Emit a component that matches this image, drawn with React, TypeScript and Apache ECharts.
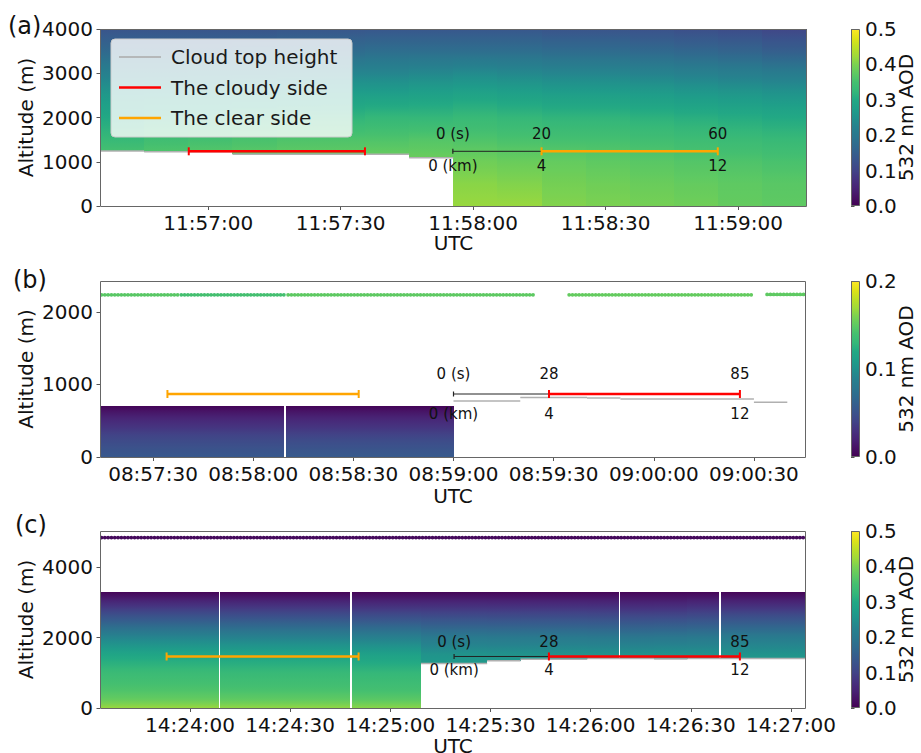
import React, { useEffect, useRef } from 'react';
import * as echarts from 'echarts';

// ================= DATA =================
// ---- Panel (a) ----
const aTimeRange = [42995.5, 43155.6];
const aAltMax = 4000;
const aAodMax = 0.5;
const aTimeTicks = [43020, 43050, 43080, 43110, 43140];
const aAltTicks = [0, 1000, 2000, 3000, 4000];
const aCbTicks = [0, 0.1, 0.2, 0.3, 0.4, 0.5];
const aLevels = [0, 500, 1000, 1500, 2000, 2500, 3000, 3500, 4000];
const aColStart = [42995.5, 43005.5, 43015.5, 43025.5, 43035.5, 43045.5, 43055.5, 43065.5, 43075.5, 43085.5, 43095.5, 43105.5, 43115.5, 43125.5, 43135.5, 43145.5];
const aColEnd = [43005.5, 43015.5, 43025.5, 43035.5, 43045.5, 43055.5, 43065.5, 43075.5, 43085.5, 43095.5, 43105.5, 43115.5, 43125.5, 43135.5, 43145.5, 43155.6];
const aColBase = [1243, 1227, 1227, 1170, 1170, 1170, 1170, 1090, 0, 0, 0, 0, 0, 0, 0, 0];
const aBaseAod = [0.35, 0.36, 0.365, 0.37, 0.375, 0.375, 0.38, 0.385, 0.42, 0.42, 0.405, 0.4, 0.395, 0.39, 0.38, 0.375];
const aAod = [
  [null, null, null, 0.33, 0.30, 0.265, 0.22, 0.17, 0.13],
  [null, null, null, 0.345, 0.31, 0.27, 0.22, 0.17, 0.13],
  [null, null, null, 0.35, 0.31, 0.27, 0.225, 0.17, 0.13],
  [null, null, null, 0.355, 0.315, 0.275, 0.225, 0.175, 0.13],
  [null, null, null, 0.36, 0.32, 0.275, 0.23, 0.175, 0.135],
  [null, null, null, 0.36, 0.32, 0.28, 0.23, 0.175, 0.135],
  [null, null, null, 0.36, 0.325, 0.28, 0.23, 0.18, 0.135],
  [null, null, null, 0.365, 0.325, 0.285, 0.235, 0.18, 0.135],
  [null, 0.41, 0.39, 0.36, 0.33, 0.29, 0.24, 0.18, 0.135],
  [null, 0.405, 0.385, 0.355, 0.325, 0.285, 0.235, 0.18, 0.135],
  [null, 0.395, 0.38, 0.35, 0.32, 0.28, 0.23, 0.175, 0.13],
  [null, 0.39, 0.375, 0.35, 0.32, 0.28, 0.23, 0.175, 0.13],
  [null, 0.385, 0.37, 0.345, 0.315, 0.275, 0.225, 0.17, 0.125],
  [null, 0.38, 0.365, 0.34, 0.31, 0.27, 0.22, 0.165, 0.12],
  [null, 0.375, 0.36, 0.335, 0.305, 0.265, 0.215, 0.16, 0.115],
  [null, 0.37, 0.355, 0.33, 0.30, 0.26, 0.21, 0.15, 0.105],
];
const aCloudStart = [42995.5, 43005.5, 43025.5, 43065.5];
const aCloudEnd = [43005.5, 43025.5, 43065.5, 43075.5];
const aCloudTop = [1243, 1227, 1170, 1090];
const aDotStart: number[] = [];
const aDotEnd: number[] = [];
const aDotAlt: number[] = [];
const aDotAod: number[] = [];
const aScaleBar = [43075.4, 43095.5];
const aClearBar = [43095.5, 43135.4];
const aCloudyBar = [43015.6, 43055.5];
const aBarAlt = 1236;
const aMarkT = [43075.4, 43095.5, 43135.4];
const aMarkSec = ['0 (s)', '20', '60'];
const aMarkKm = ['0 (km)', '4', '12'];

// ---- Panel (b) ----
const bTimeRange = [32234.1, 32445.6];
const bAltMax = 2425;
const bAodMax = 0.2;
const bTimeTicks = [32250, 32280, 32310, 32340, 32370, 32400, 32430];
const bAltTicks = [0, 1000, 2000];
const bCbTicks = [0, 0.1, 0.2];
const bLevels = [0, 100, 200, 300, 400, 500, 600, 705];
const bColStart = [32234.1, 32289.9];
const bColEnd = [32289.3, 32340];
const bColBase = [0, 0];
const bBaseAod = [0.055, 0.056];
const bAod = [
  [null, 0.051, 0.046, 0.04, 0.032, 0.024, 0.014, 0.002],
  [null, 0.052, 0.047, 0.04, 0.032, 0.024, 0.014, 0.002],
];
const bCloudStart = [32340, 32360, 32380, 32390, 32430];
const bCloudEnd = [32360, 32380, 32390, 32430, 32440];
const bCloudTop = [772, 819, 814, 800, 754];
const bDotStart = [32234.1, 32258, 32290, 32374.2, 32433.5];
const bDotEnd = [32258, 32290, 32364.3, 32429.2, 32445.6];
const bDotAlt = [2234, 2234, 2234, 2234, 2240];
const bDotAod = [0.148, 0.14, 0.15, 0.152, 0.15];
const bScaleBar = [32340, 32368.6];
const bClearBar = [32254.3, 32311.6];
const bCloudyBar = [32368.6, 32425.8];
const bBarAlt = 868;
const bMarkT = [32340, 32368.6, 32425.8];
const bMarkSec = ['0 (s)', '28', '85'];
const bMarkKm = ['0 (km)', '4', '12'];

// ---- Panel (c) ----
const cTimeRange = [51813.05, 52024.5];
const cAltMax = 5030;
const cAodMax = 0.5;
const cTimeTicks = [51840, 51870, 51900, 51930, 51960, 51990, 52020];
const cAltTicks = [0, 2000, 4000];
const cCbTicks = [0, 0.1, 0.2, 0.3, 0.4, 0.5];
const cLevels = [0, 250, 500, 1000, 1500, 2000, 2500, 3000, 3300];
const cColStart = [51813.05, 51848.9, 51888.6, 51909.2, 51929, 51939, 51959, 51968.9, 51979, 51989, 51998.9];
const cColEnd = [51848.6, 51888.0, 51909.2, 51929, 51939, 51959, 51968.6, 51979, 51989, 51998.3, 52024.5];
const cColBase = [0, 0, 0, 1265, 1340, 1388, 1405, 1405, 1390, 1405, 1405];
const cBaseAod = [0.42, 0.415, 0.41, 0.265, 0.262, 0.26, 0.26, 0.26, 0.26, 0.26, 0.262];
const cAod = [
  [null, 0.38, 0.36, 0.335, 0.295, 0.23, 0.145, 0.06, 0.005],
  [null, 0.375, 0.355, 0.33, 0.29, 0.225, 0.14, 0.058, 0.005],
  [null, 0.37, 0.35, 0.325, 0.285, 0.22, 0.135, 0.055, 0.005],
  [null, null, null, null, 0.255, 0.205, 0.13, 0.055, 0.005],
  [null, null, null, null, 0.255, 0.205, 0.13, 0.055, 0.005],
  [null, null, null, null, 0.255, 0.205, 0.13, 0.055, 0.005],
  [null, null, null, null, 0.255, 0.205, 0.13, 0.055, 0.005],
  [null, null, null, null, 0.255, 0.2, 0.125, 0.05, 0.005],
  [null, null, null, null, 0.255, 0.2, 0.125, 0.05, 0.005],
  [null, null, null, null, 0.255, 0.205, 0.13, 0.055, 0.005],
  [null, null, null, null, 0.258, 0.21, 0.135, 0.055, 0.005],
];
const cCloudStart = [51909.2, 51929, 51939, 51959, 51979, 51989];
const cCloudEnd = [51929, 51939, 51959, 51979, 51989, 52024.5];
const cCloudTop = [1265, 1340, 1388, 1405, 1390, 1405];
const cDotStart = [51813.05];
const cDotEnd = [52024.5];
const cDotAlt = [4843];
const cDotAod = [0.012];
const cScaleBar = [51919.1, 51947.5];
const cClearBar = [51833, 51890.5];
const cCloudyBar = [51947.5, 52004.7];
const cBarAlt = 1464;
const cMarkT = [51919.1, 51947.5, 52004.7];
const cMarkSec = ['0 (s)', '28', '85'];
const cMarkKm = ['0 (km)', '4', '12'];

// ================= STYLE / LAYOUT =================
const FONT = 'DejaVu Sans';
const TXT = '#111111';
const FRAME = '#666666';
const VIRIDIS = ['#440154', '#471365', '#482475', '#46337f', '#414487', '#3b528b', '#355f8d', '#2f6c8e', '#2a788e', '#26828e', '#21918c', '#1f9e89', '#22a884', '#35b779', '#44bf70', '#5ec962', '#7ad151', '#a0da39', '#bddf26', '#dfe318', '#fde725'];

const hexToRgb = (h: string) => [parseInt(h.slice(1, 3), 16), parseInt(h.slice(3, 5), 16), parseInt(h.slice(5, 7), 16)];
const VRGB = VIRIDIS.map(hexToRgb);
const viridis = (t: number) => {
  const u = Math.max(0, Math.min(1, t)) * (VRGB.length - 1);
  const i = Math.min(VRGB.length - 2, Math.floor(u));
  const f = u - i;
  const a = VRGB[i], b = VRGB[i + 1];
  const c = [0, 1, 2].map((k) => Math.round(a[k] + (b[k] - a[k]) * f));
  return `rgb(${c[0]},${c[1]},${c[2]})`;
};

const pad = (n: number) => (n < 10 ? '0' : '') + n;
const fmtTime = (v: number) => {
  const s = Math.round(v);
  return pad(Math.floor(s / 3600)) + ':' + pad(Math.floor((s % 3600) / 60)) + ':' + pad(s % 60);
};

const CB_LEFT = 851;
const CB_WIDTH = 9;

const PANELS = [
  {
    layout: { left: 100, top: 29, width: 707, height: 177, label: '(a)', lx: 8, ly: 26, nameGap: 27, dy: [-17, 14.7] },
    timeRange: aTimeRange, altMax: aAltMax, aodMax: aAodMax, timeTicks: aTimeTicks, altTicks: aAltTicks, cbTicks: aCbTicks,
    levels: aLevels, colStart: aColStart, colEnd: aColEnd, colBase: aColBase, baseAod: aBaseAod, aod: aAod,
    cloudStart: aCloudStart, cloudEnd: aCloudEnd, cloudTop: aCloudTop,
    dotStart: aDotStart, dotEnd: aDotEnd, dotAlt: aDotAlt, dotAod: aDotAod,
    scaleBar: aScaleBar, clearBar: aClearBar, cloudyBar: aCloudyBar, barAlt: aBarAlt,
    markT: aMarkT, markSec: aMarkSec, markKm: aMarkKm,
  },
  {
    layout: { left: 100, top: 281, width: 706, height: 176, label: '(b)', lx: 13, ly: 280, nameGap: 29, dy: [-20, 19.7] },
    timeRange: bTimeRange, altMax: bAltMax, aodMax: bAodMax, timeTicks: bTimeTicks, altTicks: bAltTicks, cbTicks: bCbTicks,
    levels: bLevels, colStart: bColStart, colEnd: bColEnd, colBase: bColBase, baseAod: bBaseAod, aod: bAod,
    cloudStart: bCloudStart, cloudEnd: bCloudEnd, cloudTop: bCloudTop,
    dotStart: bDotStart, dotEnd: bDotEnd, dotAlt: bDotAlt, dotAod: bDotAod,
    scaleBar: bScaleBar, clearBar: bClearBar, cloudyBar: bCloudyBar, barAlt: bBarAlt,
    markT: bMarkT, markSec: bMarkSec, markKm: bMarkKm,
  },
  {
    layout: { left: 100, top: 531, width: 706, height: 177, label: '(c)', lx: 15, ly: 525, nameGap: 28, dy: [-14.6, 13.7] },
    timeRange: cTimeRange, altMax: cAltMax, aodMax: cAodMax, timeTicks: cTimeTicks, altTicks: cAltTicks, cbTicks: cCbTicks,
    levels: cLevels, colStart: cColStart, colEnd: cColEnd, colBase: cColBase, baseAod: cBaseAod, aod: cAod,
    cloudStart: cCloudStart, cloudEnd: cCloudEnd, cloudTop: cCloudTop,
    dotStart: cDotStart, dotEnd: cDotEnd, dotAlt: cDotAlt, dotAod: cDotAod,
    scaleBar: cScaleBar, clearBar: cClearBar, cloudyBar: cCloudyBar, barAlt: cBarAlt,
    markT: cMarkT, markSec: cMarkSec, markKm: cMarkKm,
  },
];

const BAR_STYLE = [
  { color: '#222222', width: 1, cap: 2.5 },
  { color: '#ffa500', width: 2.6, cap: 4 },
  { color: '#ff0000', width: 2.6, cap: 4 },
];

function buildOption() {
  const grid: any[] = [];
  const xAxis: any[] = [];
  const yAxis: any[] = [];
  const series: any[] = [];
  const graphic: any[] = [];

  PANELS.forEach((p, i) => {
    const L = p.layout;
    grid.push({ left: L.left, top: L.top, width: L.width, height: L.height, containLabel: false, outerBoundsMode: 'none' });
    xAxis.push({
      gridIndex: i, type: 'value', min: p.timeRange[0], max: p.timeRange[1],
      name: 'UTC', nameLocation: 'middle', nameGap: L.nameGap, nameMoveOverlap: false,
      nameTextStyle: { fontSize: 20, color: TXT, fontFamily: FONT },
      axisLine: { show: false }, splitLine: { show: false },
      axisTick: { show: true, customValues: p.timeTicks, length: 4, lineStyle: { color: '#555', width: 1 } },
      axisLabel: { customValues: p.timeTicks, formatter: fmtTime, fontSize: 20, color: TXT, fontFamily: FONT, margin: 7 },
    });
    yAxis.push({
      gridIndex: i, type: 'value', min: 0, max: p.altMax,
      name: 'Altitude (m)', nameLocation: 'middle', nameGap: 64, nameMoveOverlap: false,
      nameTextStyle: { fontSize: 20, color: TXT, fontFamily: FONT },
      axisLine: { show: false }, splitLine: { show: false },
      axisTick: { show: true, customValues: p.altTicks, length: 3.5, lineStyle: { color: '#555', width: 1 } },
      axisLabel: { customValues: p.altTicks, formatter: (v: number) => String(Math.round(v)), fontSize: 20, color: TXT, fontFamily: FONT, margin: 7 },
    });

    // heatmap columns
    const levels = p.levels, baseAod = p.baseAod, aod = p.aod as (number | null)[][], vmax = p.aodMax;
    series.push({
      type: 'custom', xAxisIndex: i, yAxisIndex: i, clip: true, z: 1,
      encode: { x: [0, 1], y: [2, 3] },
      data: p.colStart.map((s, k) => [s, p.colEnd[k], p.colBase[k], levels[levels.length - 1]]),
      renderItem: (params: any, api: any) => {
        const k = params.dataIndex;
        const t0 = api.value(0), t1 = api.value(1), b = api.value(2), tp = api.value(3);
        const pA = api.coord([t0, b]);
        const pB = api.coord([t1, tp]);
        const pts: number[][] = [[b, baseAod[k]]];
        levels.forEach((l, j) => {
          const v = aod[k][j];
          if (l > b && v != null) pts.push([l, v]);
        });
        const stops: any[] = [];
        for (let q = 0; q < pts.length - 1; q++) {
          const [z0, v0] = pts[q];
          const [z1, v1] = pts[q + 1];
          const n = 5;
          for (let s = 0; s < n; s++) {
            const f = s / n;
            stops.push({ offset: ((z0 + (z1 - z0) * f) - b) / (tp - b), color: viridis((v0 + (v1 - v0) * f) / vmax) });
          }
        }
        const last = pts[pts.length - 1];
        stops.push({ offset: Math.min(1, (last[0] - b) / (tp - b)), color: viridis(last[1] / vmax) });
        const x0 = Math.round(pA[0]);
        const x1 = Math.round(pB[0]);
        const y0 = Math.round(pB[1]);
        const y1 = Math.round(pA[1]);
        return {
          type: 'rect',
          shape: { x: x0, y: y0, width: x1 - x0, height: y1 - y0 },
          style: { fill: new echarts.graphic.LinearGradient(0, 1, 0, 0, stops) },
        };
      },
    });

    // cloud top height segments
    series.push({
      type: 'custom', name: 'Cloud top height', xAxisIndex: i, yAxisIndex: i, clip: true, z: 3,
      encode: { x: [0, 1], y: 2 },
      data: p.cloudStart.map((s, k) => [s, p.cloudEnd[k], p.cloudTop[k]]),
      renderItem: (params: any, api: any) => {
        const a = api.coord([api.value(0), api.value(2)]);
        const b = api.coord([api.value(1), api.value(2)]);
        return { type: 'line', shape: { x1: a[0], y1: a[1], x2: b[0], y2: b[1] }, style: { stroke: '#b0b0b0', lineWidth: 1.5 } };
      },
    });

    // above-aircraft AOD dots
    const dotAod = p.dotAod;
    series.push({
      type: 'custom', xAxisIndex: i, yAxisIndex: i, clip: true, z: 3,
      encode: { x: [0, 1], y: 2 },
      data: p.dotStart.map((s, k) => [s, p.dotEnd[k], p.dotAlt[k]]),
      renderItem: (params: any, api: any) => {
        const a = api.coord([api.value(0), api.value(2)]);
        const b = api.coord([api.value(1), api.value(2)]);
        return {
          type: 'line', shape: { x1: a[0] + 1.5, y1: a[1], x2: b[0], y2: b[1] },
          style: { stroke: viridis(dotAod[params.dataIndex] / vmax), lineWidth: 3.8, lineDash: [0.01, 3.3], lineCap: 'round' },
        };
      },
    });

    // bars: scale (black), clear side (orange), cloudy side (red)
    series.push({
      type: 'custom', xAxisIndex: i, yAxisIndex: i, clip: false, z: 4,
      encode: { x: [0, 1], y: 2 },
      data: [
        [p.scaleBar[0], p.scaleBar[1], p.barAlt, 0],
        [p.clearBar[0], p.clearBar[1], p.barAlt, 1],
        [p.cloudyBar[0], p.cloudyBar[1], p.barAlt, 2],
      ],
      renderItem: (params: any, api: any) => {
        const st = BAR_STYLE[api.value(3)];
        const a = api.coord([api.value(0), api.value(2)]);
        const b = api.coord([api.value(1), api.value(2)]);
        const ls = { stroke: st.color, lineWidth: st.width };
        const cs = { stroke: st.color, lineWidth: Math.max(1.2, st.width - 0.6) };
        return {
          type: 'group',
          children: [
            { type: 'line', shape: { x1: a[0], y1: a[1], x2: b[0], y2: b[1] }, style: ls },
            { type: 'line', shape: { x1: a[0], y1: a[1] - st.cap, x2: a[0], y2: a[1] + st.cap }, style: cs },
            { type: 'line', shape: { x1: b[0], y1: b[1] - st.cap, x2: b[0], y2: b[1] + st.cap }, style: cs },
          ],
        };
      },
    });

    // scale labels
    const markSec = p.markSec, markKm = p.markKm, dy = L.dy;
    series.push({
      type: 'custom', xAxisIndex: i, yAxisIndex: i, clip: false, z: 5,
      encode: { x: 0, y: 1 },
      data: p.markT.map((t, k) => [t, p.barAlt, k]),
      renderItem: (params: any, api: any) => {
        const c = api.coord([api.value(0), api.value(1)]);
        const k = api.value(2);
        const mk = (text: string, y: number) => ({
          type: 'text', x: c[0], y,
          style: { text, fill: TXT, fontSize: 15, fontFamily: FONT, align: 'center', textAlign: 'center', verticalAlign: 'middle', textVerticalAlign: 'middle' },
        });
        return { type: 'group', children: [mk(markSec[k], c[1] + dy[0]), mk(markKm[k], c[1] + dy[1])] };
      },
    });

    // frame
    graphic.push({
      type: 'rect', z: 100, silent: true,
      shape: { x: L.left + 0.5, y: L.top + 0.5, width: L.width - 1, height: L.height },
      style: { fill: 'none', stroke: FRAME, lineWidth: 1 },
    });
    // panel label
    graphic.push({
      type: 'text', z: 100, x: L.lx, y: L.ly,
      style: { text: L.label, fill: TXT, fontSize: 24, fontFamily: FONT, align: 'left', textAlign: 'left', verticalAlign: 'middle', textVerticalAlign: 'middle' },
    });
  });

  // colorbars
  PANELS.forEach((p, i) => {
    const L = p.layout;
    const gi = 3 + i;
    grid.push({ left: CB_LEFT, top: L.top, width: CB_WIDTH, height: L.height, containLabel: false, outerBoundsMode: 'none' });
    xAxis.push({ gridIndex: gi, type: 'value', min: 0, max: 1, show: false });
    yAxis.push({
      gridIndex: gi, type: 'value', position: 'right', min: 0, max: p.aodMax,
      name: '532 nm AOD', nameLocation: 'middle', nameGap: 36, nameMoveOverlap: false,
      nameTextStyle: { fontSize: 20, color: TXT, fontFamily: FONT },
      axisLine: { show: false }, splitLine: { show: false },
      axisTick: { show: true, customValues: p.cbTicks, length: 3.5, lineStyle: { color: '#555', width: 1 } },
      axisLabel: { customValues: p.cbTicks, formatter: (v: number) => v.toFixed(1), fontSize: 20, color: TXT, fontFamily: FONT, margin: 5 },
    });
    series.push({
      type: 'custom', xAxisIndex: gi, yAxisIndex: gi, z: 2,
      encode: { x: [0, 1], y: [2, 3] },
      data: [[0, 1, 0, p.aodMax]],
      renderItem: (params: any, api: any) => {
        const a = api.coord([api.value(0), api.value(2)]);
        const b = api.coord([api.value(1), api.value(3)]);
        const stops = VIRIDIS.map((c, k) => ({ offset: k / (VIRIDIS.length - 1), color: c }));
        return {
          type: 'rect',
          shape: { x: a[0] + 0.5, y: b[1] + 0.5, width: b[0] - a[0] - 1, height: a[1] - b[1] - 1 },
          style: { fill: new echarts.graphic.LinearGradient(0, 1, 0, 0, stops), stroke: FRAME, lineWidth: 1 },
        };
      },
    });
  });

  // legend (panel a)
  const legendItems = [
    { name: 'Cloud top height', color: '#aaaaaa', width: 1.5 },
    { name: 'The cloudy side', color: '#ff0000', width: 2.6 },
    { name: 'The clear side', color: '#ffa500', width: 2.6 },
  ];
  graphic.push({
    type: 'rect', z: 110, silent: true,
    shape: { x: 111, y: 39, width: 241, height: 98, r: 4 },
    style: { fill: 'rgba(255,255,255,0.8)', stroke: '#cccccc', lineWidth: 1 },
  });
  legendItems.forEach((it, k) => {
    const y = 57 + k * 30.5;
    graphic.push({ type: 'line', z: 111, silent: true, shape: { x1: 119, y1: y, x2: 161, y2: y }, style: { stroke: it.color, lineWidth: it.width } });
    graphic.push({
      type: 'text', z: 111, silent: true, x: 171, y,
      style: { text: it.name, fill: '#1a1a1a', fontSize: 20, fontFamily: FONT, align: 'left', textAlign: 'left', verticalAlign: 'middle', textVerticalAlign: 'middle' },
    });
  });

  return {
    animation: false,
    backgroundColor: '#ffffff',
    textStyle: { fontFamily: FONT },
    grid, xAxis, yAxis, series, graphic,
  };
}

export default function App() {
  const ref = useRef<HTMLDivElement>(null);
  useEffect(() => {
    if (!ref.current) return;
    const chart = echarts.init(ref.current, undefined, { renderer: 'svg' });
    chart.setOption(buildOption() as any);
    return () => chart.dispose();
  }, []);
  return <div ref={ref} style={{ position: 'absolute', left: 0, top: 0, width: 921, height: 753 }} />;
}
